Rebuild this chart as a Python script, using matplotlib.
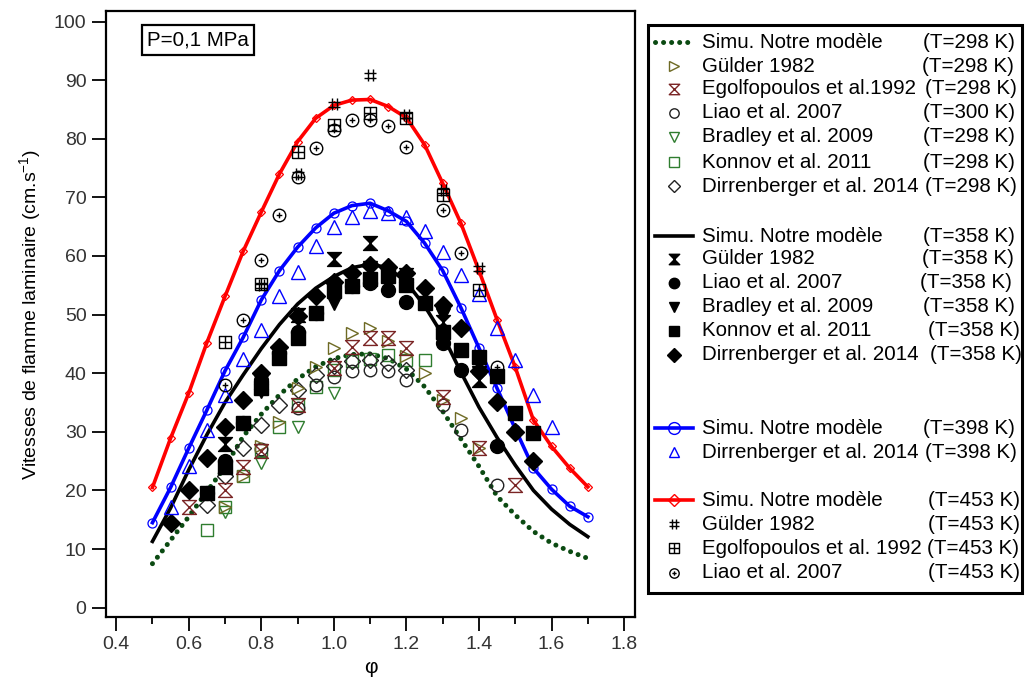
"""Vitesses de flamme laminaire vs richesse (P=0,1 MPa) — simulations vs mesures."""
import matplotlib
matplotlib.use("Agg")
import matplotlib.pyplot as plt
from matplotlib.path import Path
from matplotlib.lines import Line2D
from matplotlib.patches import Rectangle

plt.rcParams["font.family"] = ["Liberation Sans", "DejaVu Sans"]
plt.rcParams["mathtext.fontset"] = "custom"
plt.rcParams["mathtext.rm"] = "Liberation Sans"
plt.rcParams["mathtext.it"] = "Liberation Sans"

# ---------------------------------------------------------------- data
PHI_SIM = [0.50, 0.55, 0.60, 0.65, 0.70, 0.75, 0.80, 0.85, 0.90, 0.95, 1.00, 1.05, 1.10,
           1.15, 1.20, 1.25, 1.30, 1.35, 1.40, 1.45, 1.50, 1.55, 1.60, 1.65, 1.70]
SIM_298 = [7.5, 11.5, 15.5, 19.8, 24.0, 29.2, 33.0, 36.3, 39.0, 41.1, 42.5, 43.2, 43.3,
           42.5, 40.7, 37.7, 33.5, 28.8, 24.1, 19.0, 15.8, 13.0, 11.0, 9.6, 8.4]
SIM_358 = [11.3, 17.0, 23.5, 29.5, 35.0, 39.7, 44.2, 48.3, 51.8, 54.5, 56.5, 58.0, 58.6,
           58.0, 55.5, 51.5, 46.5, 40.2, 34.2, 29.0, 24.3, 20.0, 16.8, 14.2, 12.1]
SIM_398 = [14.5, 20.5, 27.2, 33.7, 40.4, 46.1, 52.5, 57.5, 61.5, 64.8, 67.3, 68.6, 69.0,
           67.7, 65.9, 62.2, 57.5, 51.2, 44.3, 37.4, 30.5, 23.8, 20.2, 17.3, 15.5]
SIM_453 = [20.5, 28.9, 36.6, 45.2, 53.1, 60.8, 67.5, 74.0, 79.5, 83.5, 85.7, 86.6, 86.7,
           85.5, 83.6, 79.0, 72.4, 65.6, 57.5, 49.1, 41.0, 32.0, 27.5, 23.8, 20.6]

# 298 K experiments
GULDER_298_PHI = [0.70, 0.75, 0.80, 0.85, 0.90, 0.95, 1.00, 1.05, 1.10, 1.15, 1.20, 1.25, 1.30, 1.35, 1.40]
GULDER_298_V = [17.2, 22.4, 27.5, 31.7, 37.4, 41.1, 44.3, 46.8, 47.7, 45.5, 43.0, 40.0, 35.5, 32.3, 27.2]
EGOLF_298_PHI = [0.60, 0.70, 0.75, 0.80, 0.90, 1.00, 1.05, 1.10, 1.15, 1.20, 1.30, 1.40, 1.50]
EGOLF_298_V = [17.2, 20.1, 24.0, 26.8, 34.6, 40.9, 44.5, 46.0, 46.0, 44.3, 36.0, 27.2, 21.0]
LIAO_300_PHI = [0.80, 0.90, 0.95, 1.00, 1.05, 1.10, 1.15, 1.20, 1.30, 1.35, 1.45]
LIAO_300_V = [27.0, 34.0, 38.0, 39.4, 40.3, 40.6, 40.3, 38.9, 34.6, 30.3, 21.0]
BRADLEY_298_PHI = [0.70, 0.80, 0.90, 1.00]
BRADLEY_298_V = [16.3, 24.6, 30.9, 36.6]
KONNOV_298_PHI = [0.65, 0.70, 0.75, 0.80, 0.85, 0.90, 0.95, 1.00, 1.05, 1.10, 1.15, 1.20, 1.25]
KONNOV_298_V = [13.3, 17.2, 22.4, 26.9, 30.9, 34.5, 37.7, 40.5, 42.0, 42.5, 43.1, 42.3, 42.3]
DIRR_298_PHI = [0.65, 0.70, 0.75, 0.80, 0.85, 0.90, 0.95, 1.00, 1.05, 1.10, 1.15, 1.20]
DIRR_298_V = [17.5, 22.4, 27.2, 31.2, 34.6, 37.2, 39.7, 41.2, 42.0, 42.2, 41.8, 40.5]

# 358 K experiments
GULDER_358_PHI = [0.70, 0.80, 0.90, 1.00, 1.10, 1.20, 1.30, 1.40]
GULDER_358_V = [28.0, 38.5, 50.0, 59.5, 62.2, 56.8, 48.8, 38.9]
LIAO_358_PHI = [0.65, 0.70, 0.75, 0.80, 0.85, 0.90, 0.95, 1.00, 1.05, 1.10, 1.15, 1.20, 1.30, 1.35, 1.45]
LIAO_358_V = [19.5, 25.0, 31.5, 38.9, 43.4, 47.0, 50.2, 55.4, 54.8, 55.4, 54.2, 52.2, 45.1, 40.6, 27.5]
BRADLEY_358_PHI = [0.80, 0.90, 1.00, 1.10, 1.20, 1.30, 1.40]
BRADLEY_358_V = [37.0, 46.0, 52.0, 58.0, 56.0, 50.0, 40.0]
KONNOV_358_PHI = [0.65, 0.70, 0.75, 0.80, 0.85, 0.90, 0.95, 1.00, 1.05, 1.10, 1.15, 1.20, 1.25,
                  1.30, 1.35, 1.40, 1.45, 1.50, 1.55]
KONNOV_358_V = [19.5, 24.0, 31.5, 37.5, 42.6, 46.0, 50.2, 54.0, 54.8, 56.0, 56.5, 55.0, 52.0,
                47.0, 44.0, 42.7, 39.5, 33.2, 29.8]
DIRR_358_PHI = [0.55, 0.60, 0.65, 0.70, 0.75, 0.80, 0.85, 0.90, 0.95, 1.00, 1.05, 1.10, 1.15,
                1.20, 1.25, 1.30, 1.35, 1.40, 1.45, 1.50, 1.55]
DIRR_358_V = [14.4, 20.0, 25.5, 30.8, 35.4, 40.0, 44.5, 49.7, 53.1, 55.6, 57.1, 58.5, 58.2,
              57.1, 54.5, 51.7, 47.7, 40.3, 35.0, 30.0, 25.1]

# 398 K experiments
DIRR_398_PHI = [0.55, 0.60, 0.65, 0.70, 0.75, 0.80, 0.85, 0.90, 0.95, 1.00, 1.05, 1.10, 1.15,
                1.20, 1.25, 1.30, 1.35, 1.40, 1.45, 1.50, 1.55, 1.60]
DIRR_398_V = [17.2, 24.2, 30.3, 36.3, 42.4, 47.4, 53.1, 57.3, 61.7, 65.0, 66.7, 67.6, 67.4,
              66.7, 64.3, 60.7, 56.8, 53.5, 47.7, 42.3, 36.2, 30.9]

# 453 K experiments
GULDER_453_PHI = [0.80, 0.90, 1.00, 1.10, 1.20, 1.30, 1.40]
GULDER_453_V = [55.0, 74.0, 85.9, 90.9, 84.1, 71.3, 57.9]
EGOLF_453_PHI = [0.70, 0.80, 0.90, 1.00, 1.10, 1.20, 1.30, 1.40]
EGOLF_453_V = [45.4, 55.2, 77.7, 82.3, 84.4, 83.5, 70.4, 54.2]
LIAO_453_PHI = [0.70, 0.75, 0.80, 0.85, 0.90, 0.95, 1.00, 1.05, 1.10, 1.15, 1.20, 1.30, 1.35, 1.45]
LIAO_453_V = [38.0, 49.1, 59.3, 67.0, 73.5, 78.4, 81.5, 83.2, 83.2, 82.1, 78.6, 67.9, 60.5, 41.1]

XTICKS = [0.4, 0.6, 0.8, 1.0, 1.2, 1.4, 1.6, 1.8]
YTICKS = [0, 10, 20, 30, 40, 50, 60, 70, 80, 90, 100]

# ---------------------------------------------------------------- custom markers
HOURGLASS = Path([(-1, 1), (1, 1), (-1, -1), (1, -1), (-1, 1)],
                 [Path.MOVETO, Path.LINETO, Path.LINETO, Path.LINETO, Path.CLOSEPOLY])
HASH = Path([(-0.4, -1), (-0.4, 1), (0.4, -1), (0.4, 1),
             (-1, -0.4), (1, -0.4), (-1, 0.4), (1, 0.4)],
            [Path.MOVETO, Path.LINETO] * 4)
SQ_CROSS = Path([(-1, -1), (1, -1), (1, 1), (-1, 1), (-1, -1),
                 (0, -1), (0, 1), (-1, 0), (1, 0)],
                [Path.MOVETO, Path.LINETO, Path.LINETO, Path.LINETO, Path.LINETO,
                 Path.MOVETO, Path.LINETO, Path.MOVETO, Path.LINETO])
CIRC_PLUS = Path.make_compound_path(
    Path.unit_circle(),
    Path([(-0.45, 0), (0.45, 0)], [Path.MOVETO, Path.LINETO]),
    Path([(0, -0.45), (0, 0.45)], [Path.MOVETO, Path.LINETO]),
)

OLIVE = "#6e6a24"
DKRED = "#7a2424"
GREEN = "#2f7d2f"
DKGREEN = "#0b4a12"

SERIES = {
    "sim298": dict(color=DKGREEN, lw=3.6, ls=(0, (0.01, 1.6)), dash_capstyle="round"),
    "sim358": dict(color="black", lw=2.6),
    "sim398": dict(color="#0000ff", lw=2.6, marker="o", ms=6.5, mfc="none", mew=0.9),
    "sim453": dict(color="#ff0000", lw=2.6, marker="D", ms=4.5, mfc="none", mew=0.9),
    "gul298": dict(ls="none", marker=">", ms=9, mfc="none", mec=OLIVE, mew=1.0),
    "ego298": dict(ls="none", marker=HOURGLASS, ms=10, mfc="none", mec=DKRED, mew=1.0),
    "lia300": dict(ls="none", marker="o", ms=9, mfc="none", mec="#222222", mew=1.0),
    "bra298": dict(ls="none", marker="v", ms=9, mfc="none", mec=GREEN, mew=1.0),
    "kon298": dict(ls="none", marker="s", ms=9, mfc="none", mec=GREEN, mew=1.0),
    "dir298": dict(ls="none", marker="D", ms=8, mfc="none", mec="#222222", mew=1.0),
    "gul358": dict(ls="none", marker=HOURGLASS, ms=10, mfc="black", mec="black", mew=1.0),
    "lia358": dict(ls="none", marker="o", ms=10, mfc="black", mec="black"),
    "bra358": dict(ls="none", marker="v", ms=10, mfc="black", mec="black"),
    "kon358": dict(ls="none", marker="s", ms=10, mfc="black", mec="black"),
    "dir358": dict(ls="none", marker="D", ms=9, mfc="black", mec="black"),
    "dir398": dict(ls="none", marker="^", ms=10, mfc="none", mec="#0000ff", mew=1.0),
    "gul453": dict(ls="none", marker=HASH, ms=9, mfc="none", mec="black", mew=1.0),
    "ego453": dict(ls="none", marker=SQ_CROSS, ms=9, mfc="none", mec="black", mew=1.0),
    "lia453": dict(ls="none", marker=CIRC_PLUS, ms=9, mfc="none", mec="black", mew=1.0),
}

LEGEND_ROWS = [
    ("sim298", "Simu. Notre modèle", "(T=298 K)", 42, 923),
    ("gul298", "Gülder 1982", "(T=298 K)", 66, 922),
    ("ego298", "Egolfopoulos et al.1992", "(T=298 K)", 89, 925),
    ("lia300", "Liao et al. 2007", "(T=300 K)", 113, 923),
    ("bra298", "Bradley et al. 2009", "(T=298 K)", 137, 923),
    ("kon298", "Konnov et al. 2011", "(T=298 K)", 162, 923),
    ("dir298", "Dirrenberger et al. 2014", "(T=298 K)", 186, 925),
    ("sim358", "Simu. Notre modèle", "(T=358 K)", 236, 923),
    ("gul358", "Gülder 1982", "(T=358 K)", 259, 922),
    ("lia358", "Liao et al. 2007", "(T=358 K)", 283, 920),
    ("bra358", "Bradley et al. 2009", "(T=358 K)", 307, 923),
    ("kon358", "Konnov et al. 2011", "(T=358 K)", 331, 928),
    ("dir358", "Dirrenberger et al. 2014", "(T=358 K)", 355, 930),
    ("sim398", "Simu. Notre modèle", "(T=398 K)", 428, 923),
    ("dir398", "Dirrenberger et al. 2014", "(T=398 K)", 452, 925),
    ("sim453", "Simu. Notre modèle", "(T=453 K)", 500, 928),
    ("gul453", "Gülder 1982", "(T=453 K)", 524, 928),
    ("ego453", "Egolfopoulos et al. 1992", "(T=453 K)", 548, 927),
    ("lia453", "Liao et al. 2007", "(T=453 K)", 573, 928),
]

W, H = 1025, 681
fig = plt.figure(figsize=(W / 100, H / 100), dpi=100)
ax = fig.add_axes([106 / W, 1 - 617 / H, (635 - 106) / W, (617 - 11) / H])

# simulations
ax.plot(PHI_SIM, SIM_453, zorder=2, **SERIES["sim453"])
ax.plot(PHI_SIM, SIM_398, zorder=2, **SERIES["sim398"])
ax.plot(PHI_SIM, SIM_358, zorder=2, **SERIES["sim358"])
ax.plot(PHI_SIM, SIM_298, zorder=2, **SERIES["sim298"])

for key, x, y in [
    ("kon298", KONNOV_298_PHI, KONNOV_298_V),
    ("bra298", BRADLEY_298_PHI, BRADLEY_298_V),
    ("lia300", LIAO_300_PHI, LIAO_300_V),
    ("dir298", DIRR_298_PHI, DIRR_298_V),
    ("gul298", GULDER_298_PHI, GULDER_298_V),
    ("ego298", EGOLF_298_PHI, EGOLF_298_V),
    ("lia358", LIAO_358_PHI, LIAO_358_V),
    ("kon358", KONNOV_358_PHI, KONNOV_358_V),
    ("bra358", BRADLEY_358_PHI, BRADLEY_358_V),
    ("gul358", GULDER_358_PHI, GULDER_358_V),
    ("dir358", DIRR_358_PHI, DIRR_358_V),
    ("dir398", DIRR_398_PHI, DIRR_398_V),
    ("lia453", LIAO_453_PHI, LIAO_453_V),
    ("ego453", EGOLF_453_PHI, EGOLF_453_V),
    ("gul453", GULDER_453_PHI, GULDER_453_V),
]:
    ax.plot(x, y, zorder=3, **SERIES[key])

ax.set_xlim(0.372, 1.83)
ax.set_ylim(-1.6, 101.8)
ax.set_xticks(XTICKS)
ax.set_xticklabels([f"{t:.1f}" for t in XTICKS])
ax.set_xticks([0.5, 0.7, 0.9, 1.1, 1.3, 1.5, 1.7], minor=True)
ax.set_yticks(YTICKS)
ax.tick_params(axis="both", which="major", direction="out", length=10, width=1.3,
               labelsize=14, pad=4, colors="black", labelcolor="#333333")
ax.tick_params(axis="x", which="minor", direction="out", length=5, width=1.3)
for sp in ax.spines.values():
    sp.set_linewidth(1.6)
ax.set_xlabel("φ", fontsize=15, labelpad=3)
ax.set_ylabel("Vitesses de flamme laminaire (cm.s$^{-1}$)", fontsize=14, labelpad=8)

ax.text((147 - 106) / (635 - 106), 1 - (40 - 11) / (617 - 11), "P=0,1 MPa",
        transform=ax.transAxes, fontsize=14.8, va="center", ha="left",
        bbox=dict(boxstyle="square,pad=0.25", fc="white", ec="black", lw=1.6))

# ---------------------------------------------------------------- legend box (pixel coords)
L, T, R, B = 648, 25, 1022, 593
lax = fig.add_axes([L / W, 1 - B / H, (R - L) / W, (B - T) / H])
lax.set_xlim(L, R)
lax.set_ylim(B, T)
lax.axis("off")
lax.add_patch(Rectangle((L, T), R - L, B - T, fill=False, lw=2.2, ec="black",
                        clip_on=False))
for key, name, tlabel, yrow, xt in LEGEND_ROWS:
    st = dict(SERIES[key])
    if key.startswith("sim"):
        lax.add_line(Line2D([655, 693], [yrow, yrow],
                            **{k: v for k, v in st.items()
                               if k not in ("marker", "ms", "mfc", "mew")}))
        if "marker" in st:
            lax.add_line(Line2D([674], [yrow], ls="none", marker=st["marker"],
                                ms=st["ms"] + 2, mfc="none", mec=st["color"], mew=1.0))
    else:
        st["ms"] = st["ms"] * 0.75
        lax.add_line(Line2D([674], [yrow], **st))
    lax.text(702, yrow, name, fontsize=14.8, va="center", ha="left")
    lax.text(xt, yrow, tlabel, fontsize=14.8, va="center", ha="left")

fig.savefig("out.png", dpi=100)
